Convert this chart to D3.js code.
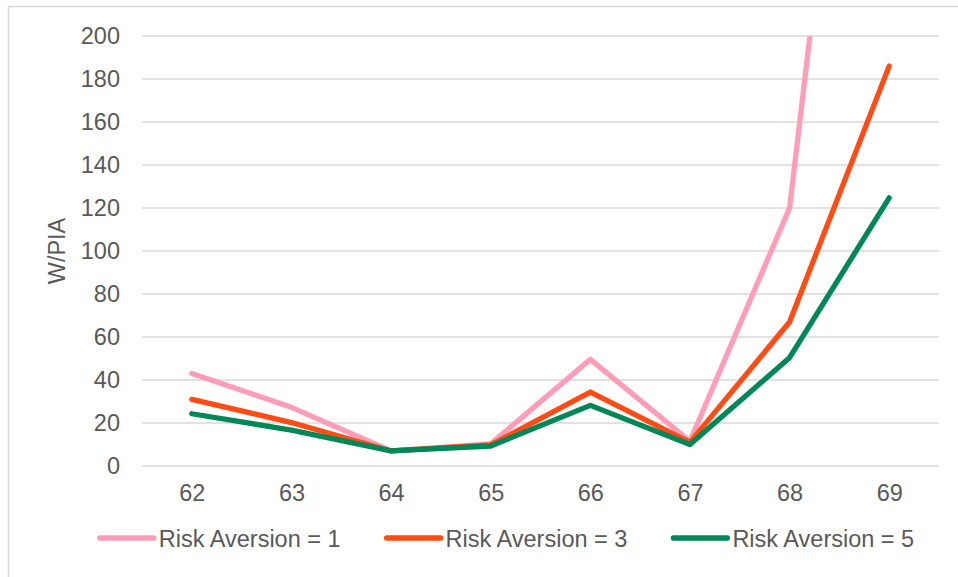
<!DOCTYPE html>
<html>
<head>
<meta charset="utf-8">
<script src="https://cdn.jsdelivr.net/npm/d3@7"></script>
<style>
  html, body { margin: 0; padding: 0; background: #fff; }
  svg { display: block; }
  text { font-family: "Liberation Sans", Arial, sans-serif; fill: #595959; }
</style>
</head>
<body>
<svg id="chart" width="958" height="577"></svg>
<script>
const categories = ["62", "63", "64", "65", "66", "67", "68", "69"];
const seriesNames = ["Risk Aversion = 1", "Risk Aversion = 3", "Risk Aversion = 5"];
const ra1 = [43, 27.3, 7, 10.3, 49.6, 11.5, 120, 512];
const ra3 = [31, 20.2, 7, 9.8, 34.4, 11, 67, 186];
const ra5 = [24.3, 16.7, 7, 9.3, 28.2, 10, 50.4, 124.7];
const yTicks = [0, 20, 40, 60, 80, 100, 120, 140, 160, 180, 200];
const yTitle = "W/PIA";
const colors = ["#FF9DB9", "#FF4B14", "#008757"];

const series = [ra1, ra3, ra5];
const svg = d3.select("#chart");
const plot = { left: 142, right: 939, top: 36, bottom: 466 };

// outer chart border
svg.append("rect")
  .attr("x", 8.5).attr("y", 6.5)
  .attr("width", 1000).attr("height", 600)
  .attr("fill", "none").attr("stroke", "#d9d9d9").attr("stroke-width", 1.5);

const x = d3.scalePoint().domain(categories).range([plot.left, plot.right]).padding(0.5);
const y = d3.scaleLinear().domain([0, 200]).range([plot.bottom, plot.top]);

// gridlines
svg.append("g").selectAll("line").data(yTicks).join("line")
  .attr("x1", plot.left).attr("x2", plot.right)
  .attr("y1", d => y(d)).attr("y2", d => y(d))
  .attr("stroke", "#d9d9d9").attr("stroke-width", 1.5);

// y axis labels
const yAxis = d3.axisLeft(y).tickValues(yTicks).tickSize(0).tickPadding(0);
const gy = svg.append("g").attr("transform", `translate(120,0)`).call(yAxis);
gy.select(".domain").remove();
gy.selectAll("text").attr("font-size", "23.5px").attr("fill", "#595959")
  .style("font-family", '"Liberation Sans", Arial, sans-serif');

// x axis labels
const xAxis = d3.axisBottom(x).tickSize(0).tickPadding(0);
const gx = svg.append("g").attr("transform", `translate(0,484)`).call(xAxis);
gx.select(".domain").remove();
gx.selectAll("text").attr("font-size", "23.5px").attr("fill", "#595959")
  .attr("dy", "0.71em")
  .style("font-family", '"Liberation Sans", Arial, sans-serif');

// y title
svg.append("text")
  .attr("transform", `translate(65,251) rotate(-90)`)
  .attr("text-anchor", "middle")
  .attr("font-size", "23.5px")
  .text(yTitle);

// clip
svg.append("defs").append("clipPath").attr("id", "clip")
  .append("rect").attr("x", 0).attr("y", plot.top)
  .attr("width", 958).attr("height", 577 - plot.top);

const line = d3.line().x((d, i) => x(categories[i])).y(d => y(d));
svg.append("g").attr("clip-path", "url(#clip)")
  .selectAll("path").data(series).join("path")
  .attr("d", d => line(d))
  .attr("fill", "none")
  .attr("stroke", (d, i) => colors[i])
  .attr("stroke-width", 5.3)
  .attr("stroke-linejoin", "round")
  .attr("stroke-linecap", "round");

// legend
const lg = svg.append("g");
const items = [];
seriesNames.forEach((name, i) => {
  const g = lg.append("g");
  g.append("line").attr("x1", 0).attr("x2", 54).attr("y1", 0).attr("y2", 0)
    .attr("stroke", colors[i]).attr("stroke-width", 5.3).attr("stroke-linecap", "round");
  const t = g.append("text").attr("x", 59).attr("y", 8.5).attr("font-size", "23.5px").text(name);
  const w = 59 + t.node().getComputedTextLength();
  items.push({ g, w });
});
const gap = 46;
const total = d3.sum(items, d => d.w) + gap * (items.length - 1);
let start = 507 - total / 2;
items.forEach(it => {
  it.g.attr("transform", `translate(${start},538)`);
  start += it.w + gap;
});
</script>
</body>
</html>
